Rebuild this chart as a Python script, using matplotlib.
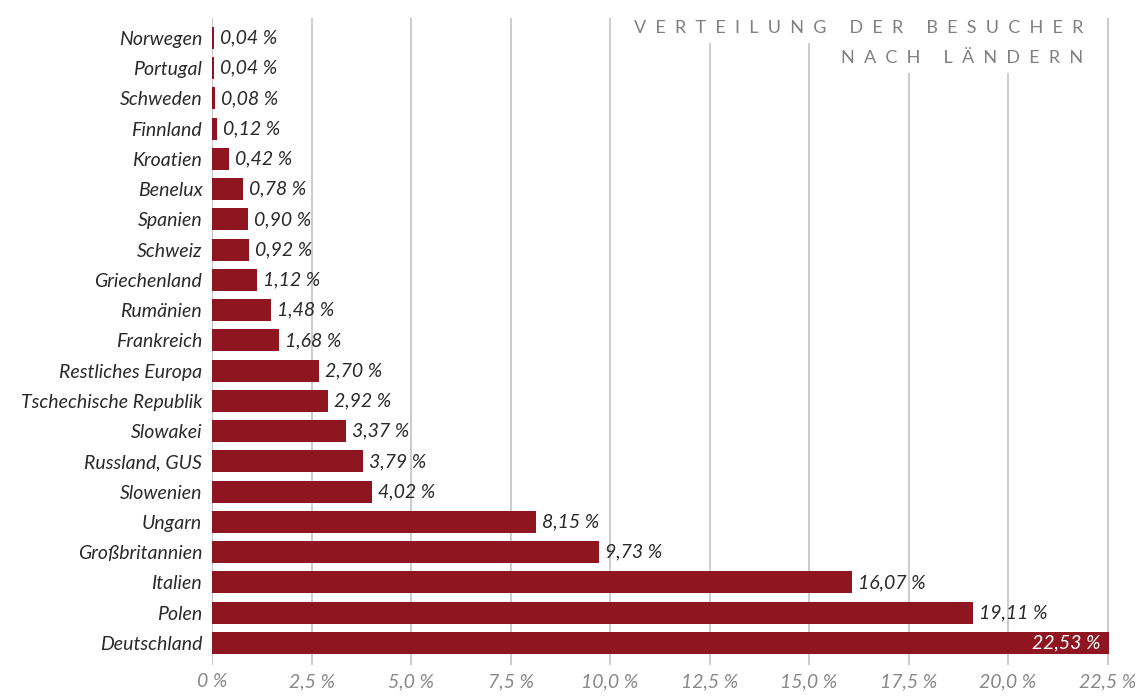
import matplotlib.pyplot as plt

countries = ["Norwegen", "Portugal", "Schweden", "Finnland", "Kroatien", "Benelux",
             "Spanien", "Schweiz", "Griechenland", "Rumänien", "Frankreich",
             "Restliches Europa", "Tschechische Republik", "Slowakei", "Russland, GUS",
             "Slowenien", "Ungarn", "Großbritannien", "Italien", "Polen", "Deutschland"]
shares = [0.04, 0.04, 0.08, 0.12, 0.42, 0.78, 0.90, 0.92, 1.12, 1.48, 1.68,
          2.70, 2.92, 3.37, 3.79, 4.02, 8.15, 9.73, 16.07, 19.11, 22.53]
xticks = [0, 2.5, 5.0, 7.5, 10.0, 12.5, 15.0, 17.5, 20.0, 22.5]
xtick_labels = ["0 %", "2,5 %", "5,0 %", "7,5 %", "10,0 %", "12,5 %",
                "15,0 %", "17,5 %", "20,0 %", "22,5 %"]
title_lines = ["VERTEILUNG DER BESUCHER", "NACH LÄNDERN"]

plt.rcParams['font.family'] = ["Lato", "DejaVu Sans"]

bar_color = "#8f1520"
text_dark = "#2a2a2a"
grid_gray = "#c8c8c8"
fs = 14

fig = plt.figure(figsize=(11.44, 6.99), dpi=100)
ax = fig.add_axes([212 / 1144, 1 - 665 / 699, (1111.5 - 212) / 1144, (665 - 18) / 699])

y = list(range(len(countries)))
ax.barh(y, shares, height=0.73, color=bar_color, zorder=2)
ax.set_ylim(len(countries) - 1 + 0.73, -0.66)
ax.set_xlim(0, 22.6)

for i, v in enumerate(shares):
    lab = f"{v:.2f}".replace(".", ",") + " %"
    if v > 21:
        ax.text(v - 0.2, i, lab, ha="right", va="center", color="white",
                fontsize=fs, style="italic", zorder=3)
    else:
        ax.text(v + 0.15, i, lab, ha="left", va="center", color=text_dark,
                fontsize=fs, style="italic", zorder=3)

ax.set_yticks(y)
ax.set_yticklabels(countries, fontsize=fs, style="italic", color=text_dark)
ax.set_xticks(xticks)
ax.set_xticklabels(xtick_labels, fontsize=fs, style="italic", color="#888888")
ax.tick_params(axis="both", length=0)
ax.tick_params(axis="y", pad=7)
ax.tick_params(axis="x", pad=6)
ax.xaxis.grid(True, color=grid_gray, linewidth=1.3, zorder=0)
ax.set_axisbelow(True)
for s in ax.spines.values():
    s.set_visible(False)
ax.axvline(0, color=grid_gray, linewidth=1.3, zorder=1)

# letter-spaced title, white box hides the grid lines behind it
spaced = ["     ".join("  ".join(w) for w in t.split()) for t in title_lines]
for k, t in enumerate(spaced):
    fig.text(1083 / 1144, 1 - (28 + 30 * k) / 699, t, ha="right", va="center",
             fontsize=13, color="#808080",
             bbox=dict(facecolor="white", edgecolor="none", pad=5), zorder=5)

fig.savefig("out.png", dpi=100)
